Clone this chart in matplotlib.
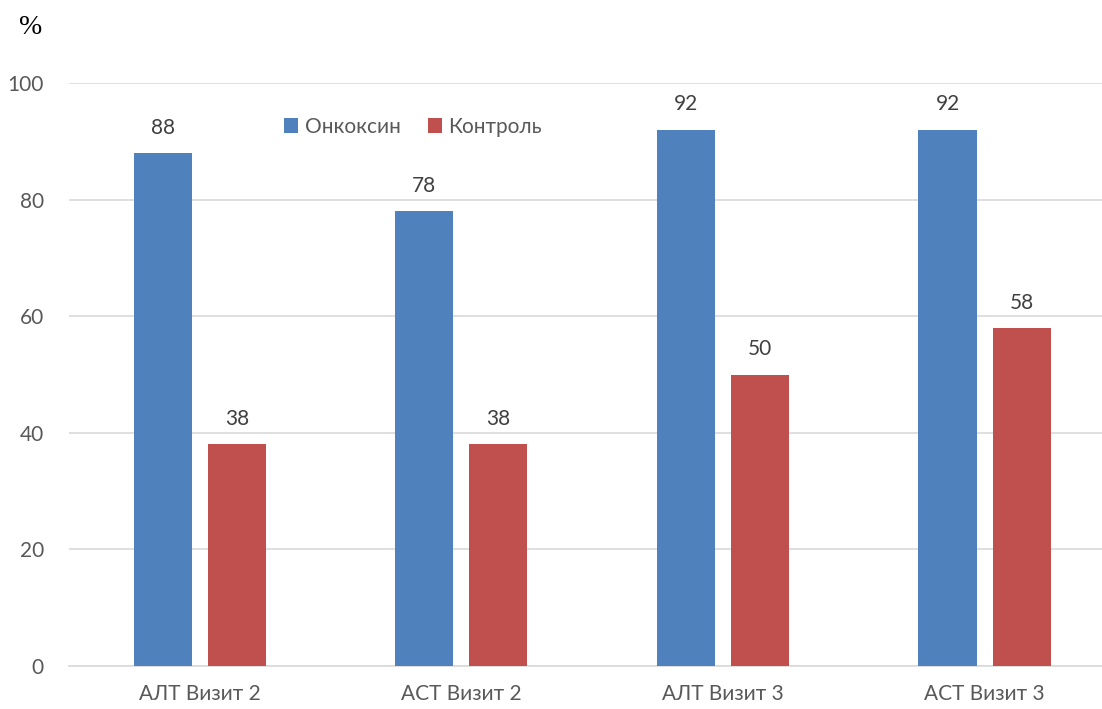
import matplotlib
matplotlib.use("Agg")
import matplotlib.pyplot as plt
import numpy as np

categorias = ["АЛТ Визит 2", "АСТ Визит 2", "АЛТ Визит 3", "АСТ Визит 3"]
onkoksin = [88, 78, 92, 92]
kontrol = [38, 38, 50, 58]
series_nomes = ["Онкоксин", "Контроль"]
y_ticks = [0, 20, 40, 60, 80, 100]

AZUL = "#4F81BD"
VERMELHO = "#C0504D"
CINZA = "#595959"

plt.rcParams["font.family"] = ["Lato", "DejaVu Sans"]

fig = plt.figure(figsize=(11.02, 7.09), dpi=100)
ax = fig.add_axes([69 / 1102, 43 / 709, (1102 - 69) / 1102, (666 - 83) / 709])

x = np.arange(len(categorias))
largura = 0.222
desloc = 0.1415

b1 = ax.bar(x - desloc, onkoksin, largura, color=AZUL, label=series_nomes[0], zorder=3)
b2 = ax.bar(x + desloc, kontrol, largura, color=VERMELHO, label=series_nomes[1], zorder=3)

for barras in (b1, b2):
    for b in barras:
        ax.annotate(f"{b.get_height():g}", (b.get_x() + b.get_width() / 2, b.get_height()),
                    xytext=(0, 11), textcoords="offset points", ha="center", va="bottom",
                    fontsize=15, color="#404040")

ax.set_xlim(-0.5, 3.449)
ax.set_ylim(0, 100)
ax.set_yticks(y_ticks)
ax.set_xticks(x)
ax.set_xticklabels(categorias)
ax.tick_params(axis="both", length=0, labelsize=15, colors=CINZA)
ax.tick_params(axis="y", pad=18)
ax.tick_params(axis="x", pad=13)
ax.yaxis.grid(True, color="#D9D9D9", linewidth=1.2, zorder=0)
for s in ["top", "right", "left"]:
    ax.spines[s].set_visible(False)
ax.spines["bottom"].set_color("#D9D9D9")
ax.spines["bottom"].set_linewidth(1.2)

ax.legend(loc="center", bbox_to_anchor=(413 / 1102, 1 - 127 / 709), bbox_transform=fig.transFigure,
          ncol=2, frameon=False, fontsize=15, handlelength=0.7, handleheight=0.7,
          handletextpad=0.3, columnspacing=1.3, labelcolor=CINZA)

fig.text(31 / 1102, 1 - 27 / 709, "%", family="Liberation Serif", fontsize=20,
         ha="center", va="center", color="black")

fig.savefig("out.png", dpi=100)
